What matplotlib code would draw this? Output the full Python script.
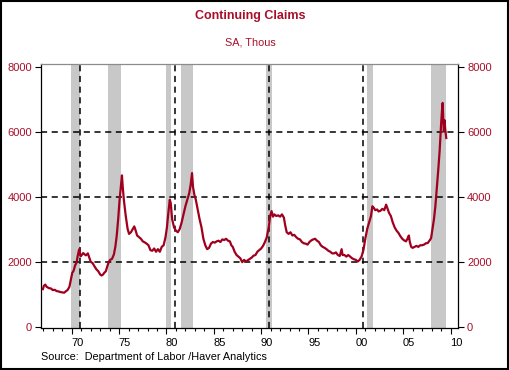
import numpy as np
import matplotlib
matplotlib.use("Agg")
import matplotlib.pyplot as plt
from matplotlib.patches import Rectangle

plt.rcParams['font.family'] = ['Liberation Sans', 'DejaVu Sans']

# continuing claims, SA, thousands
years = [1966.95, 1967.05, 1967.2, 1967.35, 1967.6, 1967.8, 1968.0, 1968.2, 1968.4, 1968.6,
         1968.8, 1969.0, 1969.2, 1969.4, 1969.55, 1969.75, 1969.9, 1970.05, 1970.2, 1970.35,
         1970.5, 1970.62, 1970.72, 1970.8, 1970.88, 1970.95, 1971.05, 1971.2, 1971.35, 1971.5,
         1971.7, 1971.85, 1972.0, 1972.2, 1972.4, 1972.6, 1972.8, 1973.0, 1973.15, 1973.3,
         1973.45, 1973.6, 1973.75, 1973.9, 1974.05, 1974.25, 1974.45, 1974.6, 1974.75, 1974.9,
         1975.05, 1975.2, 1975.3, 1975.38, 1975.5, 1975.7, 1975.9, 1976.05, 1976.25, 1976.45,
         1976.6, 1976.75, 1976.9, 1977.1, 1977.3, 1977.5, 1977.7, 1977.9, 1978.1, 1978.3,
         1978.5, 1978.7, 1978.9, 1979.1, 1979.3, 1979.5, 1979.7, 1979.9, 1980.05, 1980.2,
         1980.35, 1980.45, 1980.6, 1980.8, 1981.0, 1981.2, 1981.4, 1981.6, 1981.8, 1982.0,
         1982.2, 1982.4, 1982.55, 1982.7, 1982.8, 1982.95, 1983.1, 1983.3, 1983.5, 1983.7,
         1983.9, 1984.1, 1984.3, 1984.5, 1984.7, 1984.9, 1985.1, 1985.3, 1985.5, 1985.7,
         1985.9, 1986.1, 1986.3, 1986.5, 1986.7, 1986.85, 1987.0, 1987.2, 1987.4, 1987.6,
         1987.8, 1988.0, 1988.2, 1988.4, 1988.6, 1988.8, 1989.0, 1989.2, 1989.4, 1989.6,
         1989.8, 1990.0, 1990.2, 1990.4, 1990.6, 1990.8, 1990.95, 1991.1, 1991.25, 1991.4,
         1991.6, 1991.8, 1992.0, 1992.2, 1992.4, 1992.55, 1992.7, 1992.9, 1993.1, 1993.3,
         1993.5, 1993.7, 1993.9, 1994.1, 1994.3, 1994.5, 1994.7, 1994.9, 1995.1, 1995.3,
         1995.5, 1995.7, 1995.9, 1996.1, 1996.3, 1996.5, 1996.7, 1996.9, 1997.1, 1997.3,
         1997.5, 1997.7, 1997.9, 1998.1, 1998.3, 1998.5, 1998.6, 1998.8, 1999.0, 1999.2,
         1999.4, 1999.6, 1999.8, 2000.0, 2000.2, 2000.4, 2000.6, 2000.8, 2001.0, 2001.2,
         2001.4, 2001.6, 2001.75, 2001.9, 2002.05, 2002.25, 2002.4, 2002.6, 2002.8, 2003.0,
         2003.2, 2003.35, 2003.5, 2003.7, 2003.9, 2004.1, 2004.3, 2004.5, 2004.7, 2004.9,
         2005.1, 2005.3, 2005.45, 2005.6, 2005.7, 2005.85, 2006.0, 2006.2, 2006.4, 2006.6,
         2006.8, 2007.0, 2007.2, 2007.4, 2007.6, 2007.8, 2007.95, 2008.1, 2008.25, 2008.4,
         2008.55, 2008.7, 2008.85, 2009.0, 2009.1, 2009.17, 2009.23, 2009.3, 2009.36, 2009.45,
         2009.55]
claims = [1150, 1250, 1290, 1220, 1180, 1170, 1120, 1130, 1090, 1080,
          1060, 1050, 1040, 1090, 1120, 1220, 1440, 1650, 1720, 1880,
          1960, 2160, 2300, 2380, 2200, 2160, 2200, 2260, 2220, 2190,
          2250, 2120, 1990, 1950, 1850, 1760, 1700, 1600, 1570, 1600,
          1660, 1700, 1850, 1980, 2050, 2080, 2220, 2450, 2800, 3300,
          3900, 4350, 4650, 4300, 3900, 3400, 3000, 2850, 2900, 3000,
          3080, 2950, 2800, 2750, 2700, 2620, 2590, 2550, 2500, 2350,
          2330, 2400, 2300, 2380, 2300, 2450, 2500, 2750, 3050, 3500,
          3900, 3800, 3300, 3050, 2950, 2900, 3000, 3200, 3450, 3700,
          3900, 4100, 4350, 4720, 4300, 4050, 3900, 3600, 3300, 3050,
          2700, 2500, 2380, 2420, 2550, 2600, 2580, 2620, 2640, 2600,
          2680, 2660, 2700, 2640, 2620, 2500, 2450, 2300, 2200, 2150,
          2100, 1980, 2050, 2000, 2040, 2080, 2120, 2180, 2200, 2300,
          2350, 2400, 2480, 2600, 2750, 3050, 3400, 3550, 3380, 3450,
          3400, 3420, 3380, 3450, 3350, 3100, 2900, 2850, 2900, 2800,
          2820, 2750, 2700, 2680, 2600, 2560, 2550, 2520, 2600, 2650,
          2680, 2700, 2640, 2600, 2500, 2450, 2420, 2380, 2330, 2300,
          2250, 2250, 2280, 2200, 2170, 2380, 2200, 2200, 2150, 2200,
          2150, 2100, 2070, 2050, 2000, 2050, 2150, 2350, 2700, 3000,
          3200, 3400, 3700, 3650, 3580, 3600, 3540, 3560, 3620, 3580,
          3750, 3620, 3500, 3400, 3200, 3050, 2950, 2880, 2780, 2700,
          2650, 2620, 2700, 2800, 2600, 2450, 2420, 2450, 2480, 2450,
          2500, 2500, 2520, 2560, 2570, 2650, 2720, 3000, 3300, 3700,
          4250, 4800, 5400, 6200, 6650, 6880, 6400, 6000, 6350, 6050,
          5800]

# NBER recessions (start, end)
rec_start = [1969.92, 1973.83, 1980.0, 1981.5, 1990.5, 2001.17, 2007.92]
rec_end = [1970.83, 1975.17, 1980.5, 1982.83, 1991.17, 2001.83, 2009.5]
vline_years = [1970.9, 1980.9, 1990.8, 2000.8]
hgrid = [2000, 4000, 6000]
yticks = [0, 2000, 4000, 6000, 8000]
label_years = list(range(1970, 2011, 5))
label_text = ["70", "75", "80", "85", "90", "95", "00", "05", "10"]

red = "#A8102A"

fig = plt.figure(figsize=(5.1, 3.7), dpi=100)
ax = fig.add_axes([41 / 510, 1 - 328 / 370, 417 / 510, 264 / 370])

for s, e in zip(rec_start, rec_end):
    ax.axvspan(s, e, color="#C8C8C8", lw=0, zorder=0)
for v in vline_years:
    ax.axvline(v, color="black", lw=1.1, dashes=(4, 3), zorder=1)
for h in hgrid:
    ax.axhline(h, color="black", lw=1.1, dashes=(4, 3), zorder=1)

ax.plot(years, claims, color="#A0001E", lw=1.6, zorder=3)

ax.set_xlim(1966.75, 2010.79)
ax.set_ylim(-46, 8077)

ax.set_yticks(yticks)
ax.set_yticklabels([str(t) for t in yticks])
ax.tick_params(axis="y", which="major", direction="out", length=4, width=0.8,
               left=True, right=True, labelleft=True, labelright=True,
               labelsize=8, labelcolor=red, pad=2.5)

ax.set_xticks(label_years)
ax.set_xticklabels([])
ax.set_xticks(np.arange(1967, 2011), minor=True)
ax.tick_params(axis="x", which="major", direction="out", length=4.5, width=0.8)
ax.tick_params(axis="x", which="minor", direction="out", length=2.5, width=0.8)
for yr, lab in zip(label_years, label_text):
    ax.annotate(lab, xy=(yr + 0.6, 0), xycoords=("data", "axes fraction"),
                xytext=(0, -7.5), textcoords="offset points",
                ha="center", va="top", fontsize=8)

for sp in ["left", "right", "bottom"]:
    ax.spines[sp].set_color("black")
    ax.spines[sp].set_linewidth(0.9)
ax.spines["top"].set_color("#8C8C8C")
ax.spines["top"].set_linewidth(0.9)

fig.text(0.49, 1 - 16 / 370, "Continuing Claims", color=red, fontsize=9,
         fontweight="bold", ha="center", va="center")
fig.text(0.49, 1 - 42.5 / 370, "SA, Thous", color=red, fontsize=7.8,
         ha="center", va="center")
fig.text(41 / 510, 1 - 357 / 370, "Source:  Department of Labor /Haver Analytics",
         fontsize=7.8, ha="left", va="center")

fig.patches.append(Rectangle((0.002, 0.003), 0.994, 0.993, transform=fig.transFigure,
                             fill=False, edgecolor="black", lw=1.5))

fig.savefig("out.png", dpi=100)
